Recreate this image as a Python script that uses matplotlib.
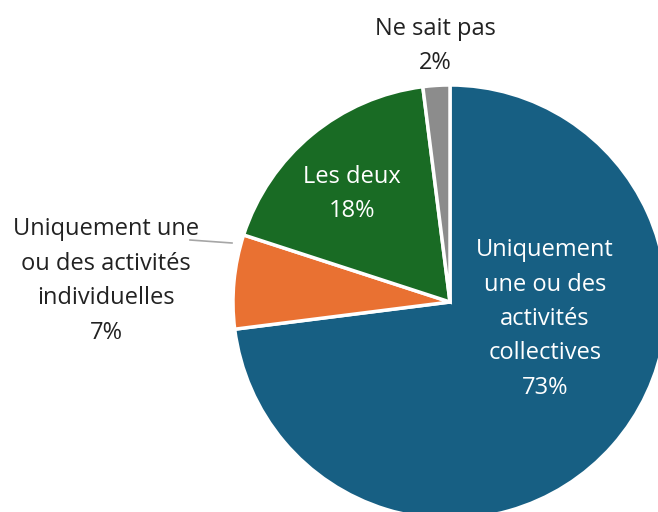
import matplotlib
matplotlib.use("Agg")
import matplotlib.pyplot as plt

# data
labels = ["Uniquement\nune ou des\nactivités\ncollectives",
          "Uniquement une\nou des activités\nindividuelles",
          "Les deux",
          "Ne sait pas"]
values = [73, 7, 18, 2]
colors = ["#175f83", "#e97132", "#196b24", "#8c8c8c"]

plt.rcParams['font.family'] = ['Open Sans', 'DejaVu Sans']

W, H = 658, 512
fig = plt.figure(figsize=(W / 100, H / 100), dpi=100)
ax = fig.add_axes([0, 0, 1, 1])

# pie in pixel coordinates (y going up)
cx, cy, r = 450, H - 302, 217
wedges, _ = ax.pie(values, colors=colors, startangle=90, counterclock=False,
                   center=(cx, cy), radius=r, frame=True,
                   wedgeprops=dict(edgecolor='white', linewidth=2.5))
ax.set_xlim(0, W)
ax.set_ylim(0, H)
ax.axis('off')

fs = 17
ls = 1.58
txt = [f"{l}\n{v}%" for l, v in zip(labels, values)]

ax.text(545, H - 319, txt[0], color='white', ha='center', va='center',
        fontsize=fs, linespacing=ls)
ax.text(352, H - 194, txt[2], color='white', ha='center', va='center',
        fontsize=fs, linespacing=ls)
ax.text(106, H - 281, txt[1], color='#222222', ha='center', va='center',
        fontsize=fs, linespacing=ls)
ax.text(435, H - 46, txt[3], color='#222222', ha='center', va='center',
        fontsize=fs, linespacing=ls)

# leader line for the small orange slice
ax.plot([190, 232], [H - 240, H - 243], color='#a6a6a6', lw=1.2)

fig.savefig("out.png", dpi=100)
